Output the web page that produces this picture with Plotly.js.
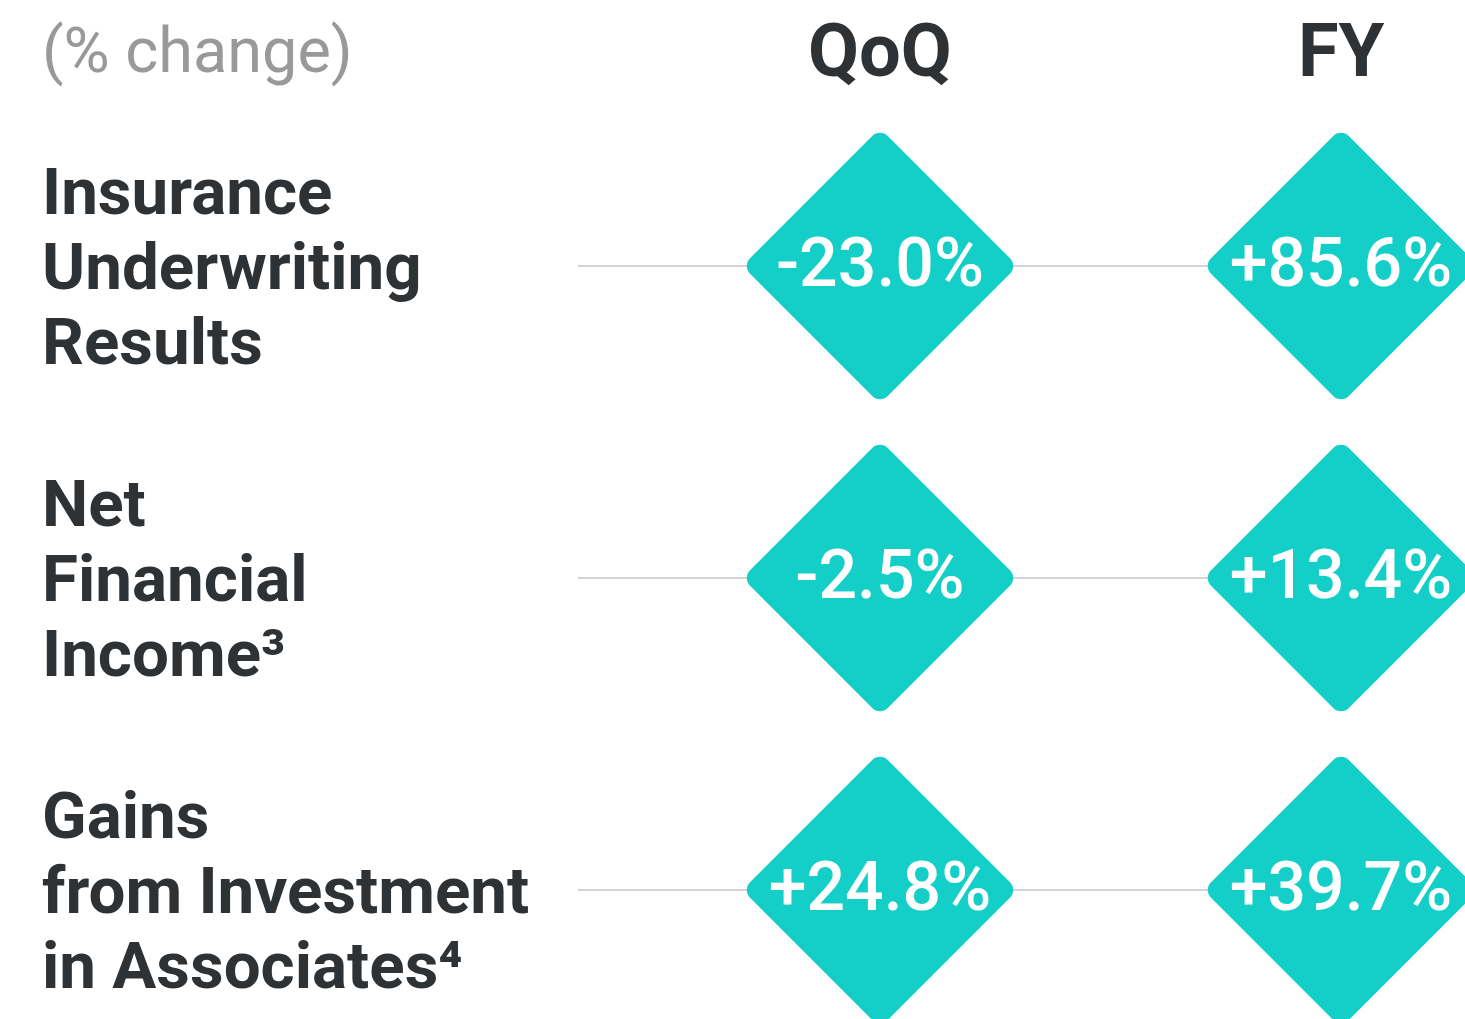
<!DOCTYPE html>
<html>
<head>
<meta charset="utf-8">
<script src="https://cdn.plot.ly/plotly-3.0.1.min.js"></script>
<style>
  html, body { margin: 0; padding: 0; background: #ffffff; }
  #chart { width: 1465px; height: 1019px; }
  #chart .scatterlayer path.point { stroke-linejoin: round; }
</style>
</head>
<body>
<div id="chart"></div>
<script>
// ---- data ----
const categories = ['Insurance<br>Underwriting<br>Results', 'Net<br>Financial<br>Income³', 'Gains<br>from Investment<br>in Associates⁴'];
const periods = ['QoQ', 'FY'];
const qoqValues = [-23.0, -2.5, 24.8];
const fyValues = [85.6, 13.4, 39.7];
const unitLabel = '(% change)';

// ---- style ----
const TEAL = '#13cfc7';
const DARK = '#2e3234';
const GREY_TEXT = '#999999';
const LINE_GREY = '#d4d4d4';
const FONT = 'Roboto, "Liberation Sans", sans-serif';

// layout geometry (pixel mapping of axes)
const W = 1465, H = 1019;
const colPx0 = 880, colStep = 461;
const rowPx0 = 266, rowStep = 312;
const xRange = [-colPx0 / colStep, (W - colPx0) / colStep];
const yRange = [(H - rowPx0) / rowStep, -rowPx0 / rowStep];
const pxToX = p => (p - colPx0) / colStep;
const pxToY = p => (p - rowPx0) / rowStep;

const fmt = v => (v > 0 ? '+' : '') + v.toFixed(1) + '%';
const rows = categories.map((c, i) => i);

const traces = [];
// connector lines
rows.forEach(r => {
  traces.push({
    type: 'scatter', mode: 'lines',
    x: [pxToX(578), xRange[1] + 0.1], y: [r, r],
    line: { color: LINE_GREY, width: 2 },
    hoverinfo: 'skip', showlegend: false, cliponaxis: false
  });
});
// diamonds
const series = [qoqValues, fyValues];
series.forEach((vals, si) => {
  traces.push({
    type: 'scatter', mode: 'markers',
    x: rows.map(() => si), y: rows,
    marker: { symbol: 'diamond', size: 188, color: TEAL, line: { color: TEAL, width: 22 } },
    hoverinfo: 'skip', showlegend: false, cliponaxis: true
  });
});
// value labels
const textShift = 3 / rowStep;
series.forEach((vals, si) => {
  traces.push({
    type: 'scatter', mode: 'text',
    x: rows.map(() => si), y: rows.map(r => r + textShift),
    text: vals.map(fmt),
    textposition: 'middle center',
    textfont: { family: FONT, size: 68, color: '#ffffff', weight: 500 },
    hoverinfo: 'skip', showlegend: false, cliponaxis: false
  });
});

const annotations = [];
// header
annotations.push({
  x: pxToX(40), y: pxToY(50), xref: 'x', yref: 'y', xanchor: 'left', yanchor: 'middle',
  text: unitLabel, showarrow: false, font: { family: FONT, size: 63, color: GREY_TEXT }
});
periods.forEach((p, i) => {
  annotations.push({
    x: i, y: pxToY(50), xref: 'x', yref: 'y', xanchor: 'center', yanchor: 'middle',
    text: p, showarrow: false, font: { family: FONT, size: 74, color: DARK, weight: 700 }
  });
});
// row labels, one annotation per line
const lineStepPx = 75;
categories.forEach((c, r) => {
  const lines = c.split('<br>');
  lines.forEach((ln, li) => {
    annotations.push({
      x: pxToX(40), y: r + ((li - (lines.length - 1) / 2) * lineStepPx) / rowStep,
      xref: 'x', yref: 'y', xanchor: 'left', yanchor: 'middle',
      text: ln, showarrow: false,
      font: { family: FONT, size: 65.5, color: DARK, weight: 700 }
    });
  });
});

const layout = {
  width: W, height: H,
  margin: { l: 0, r: 0, t: 0, b: 0, pad: 0 },
  paper_bgcolor: '#ffffff', plot_bgcolor: '#ffffff',
  xaxis: { range: xRange, visible: false, fixedrange: true },
  yaxis: { range: yRange, visible: false, fixedrange: true },
  annotations: annotations,
  hovermode: false,
  showlegend: false
};

Plotly.newPlot('chart', traces, layout, { displayModeBar: false, staticPlot: true });
</script>
</body>
</html>
